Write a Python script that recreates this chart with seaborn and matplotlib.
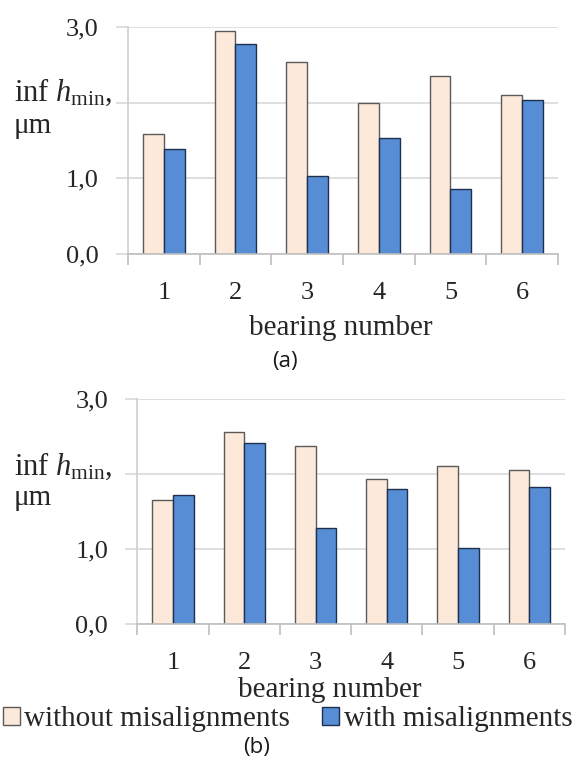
import matplotlib
matplotlib.use("Agg")
import matplotlib.pyplot as plt
import seaborn as sns
import pandas as pd
from matplotlib.patches import Patch
from matplotlib.ticker import FixedLocator

bearings = ["1", "2", "3", "4", "5", "6"]
series = ["without misalignments", "with misalignments"]
a_without = [1.58, 2.95, 2.54, 1.99, 2.35, 2.10]
a_with = [1.39, 2.78, 1.03, 1.53, 0.86, 2.03]
b_without = [1.66, 2.57, 2.37, 1.93, 2.11, 2.05]
b_with = [1.72, 2.42, 1.28, 1.80, 1.02, 1.83]
ytick_vals = [0.0, 1.0, 3.0]
ytick_labels = ["0,0", "1,0", "3,0"]

sns.set_style("white")
plt.rcParams["font.family"] = ["Liberation Serif", "DejaVu Serif"]
plt.rcParams["mathtext.fontset"] = "custom"
plt.rcParams["mathtext.rm"] = "Liberation Serif"
plt.rcParams["mathtext.it"] = "Liberation Serif:italic"

peach = "#FDE9D9"
blue = "#568DD4"
colors = {series[0]: peach, series[1]: blue}
edges = ["#5a5a5a", "#1f2f4f"]
TXT = "#262626"


def make_df(wo, w):
    rows = []
    for b, v1, v2 in zip(bearings, wo, w):
        rows.append({"bearing": b, "series": series[0], "value": v1})
        rows.append({"bearing": b, "series": series[1], "value": v2})
    return pd.DataFrame(rows)


fig = plt.figure(figsize=(5.79, 7.65), dpi=100)
ax1 = fig.add_axes([128 / 579, 1 - 254 / 765, 430 / 579, 227 / 765])
ax2 = fig.add_axes([137.3 / 579, 1 - 624 / 765, 427.7 / 579, 224.7 / 765])

panels = [
    (ax1, a_without, a_with, 101, 133, 341, 335),
    (ax2, b_without, b_with, 475, 505, 330, 697),
]
for ax, wo, w, inf_y, mu_y, xl_x, xl_y in panels:
    df = make_df(wo, w)
    sns.barplot(data=df, x="bearing", y="value", hue="series", palette=colors,
                width=0.58, ax=ax, legend=False, errorbar=None, saturation=1)
    for i, cont in enumerate(ax.containers):
        for p in cont:
            p.set_edgecolor(edges[i])
            p.set_linewidth(1.0)
    ax.set_xlim(-0.5, 5.5)
    ax.set_ylim(0, 3.0)
    ax.set_yticks(ytick_vals)
    ax.set_yticklabels(ytick_labels)
    ax.yaxis.set_minor_locator(FixedLocator([2.0]))
    ax.grid(axis="y", which="both", color="#d9d9d9", linewidth=1.2)
    ax.set_axisbelow(True)
    ax.xaxis.set_minor_locator(FixedLocator([-0.5 + k for k in range(7)]))
    ax.tick_params(axis="x", which="major", length=0, pad=20, labelsize=19,
                   labelcolor=TXT)
    ax.tick_params(axis="x", which="minor", length=8, color="#bfbfbf", width=1.2,
                   direction="out", bottom=True)
    ax.tick_params(axis="y", which="both", length=9, color="#d9d9d9", width=1.2,
                   direction="out", left=True, labelsize=19, pad=12, labelcolor=TXT)
    for s in ["top", "right"]:
        ax.spines[s].set_visible(False)
    ax.spines["left"].set_color("#d0d0d0")
    ax.spines["bottom"].set_color("#bfbfbf")
    ax.spines["left"].set_linewidth(1.2)
    ax.spines["bottom"].set_linewidth(1.2)
    ax.set_xlabel("")
    ax.set_ylabel("")
    fig.text(xl_x / 579, 1 - xl_y / 765, "bearing number", fontsize=21,
             ha="center", va="baseline", color=TXT)
    fig.text(14 / 579, 1 - inf_y / 765, r"inf $h_{\mathrm{min}}$,", fontsize=22,
             ha="left", va="baseline", color=TXT)
    fig.text(14 / 579, 1 - mu_y / 765, "μm", fontsize=21,
             ha="left", va="baseline", color=TXT)

fig.text(285 / 579, 1 - 362 / 765, "(a)", fontsize=16, ha="center", va="center",
         family=["Open Sans", "DejaVu Sans"], color="#1a1a1a")
fig.text(257 / 579, 1 - 747 / 765, "(b)", fontsize=16, ha="center", va="center",
         family=["Open Sans", "DejaVu Sans"], color="#1a1a1a")

handles = [Patch(facecolor=peach, edgecolor=edges[0], linewidth=1.0),
           Patch(facecolor=blue, edgecolor=edges[1], linewidth=1.0)]
leg = fig.legend(handles, series, loc="center", bbox_to_anchor=(0.497, 1 - 719 / 765),
                 ncol=2, frameon=False, fontsize=21, handlelength=0.58,
                 handleheight=0.58, handletextpad=0.15, columnspacing=1.1,
                 borderaxespad=0, borderpad=0)
for t in leg.get_texts():
    t.set_color(TXT)

fig.savefig("out.png", dpi=100)
